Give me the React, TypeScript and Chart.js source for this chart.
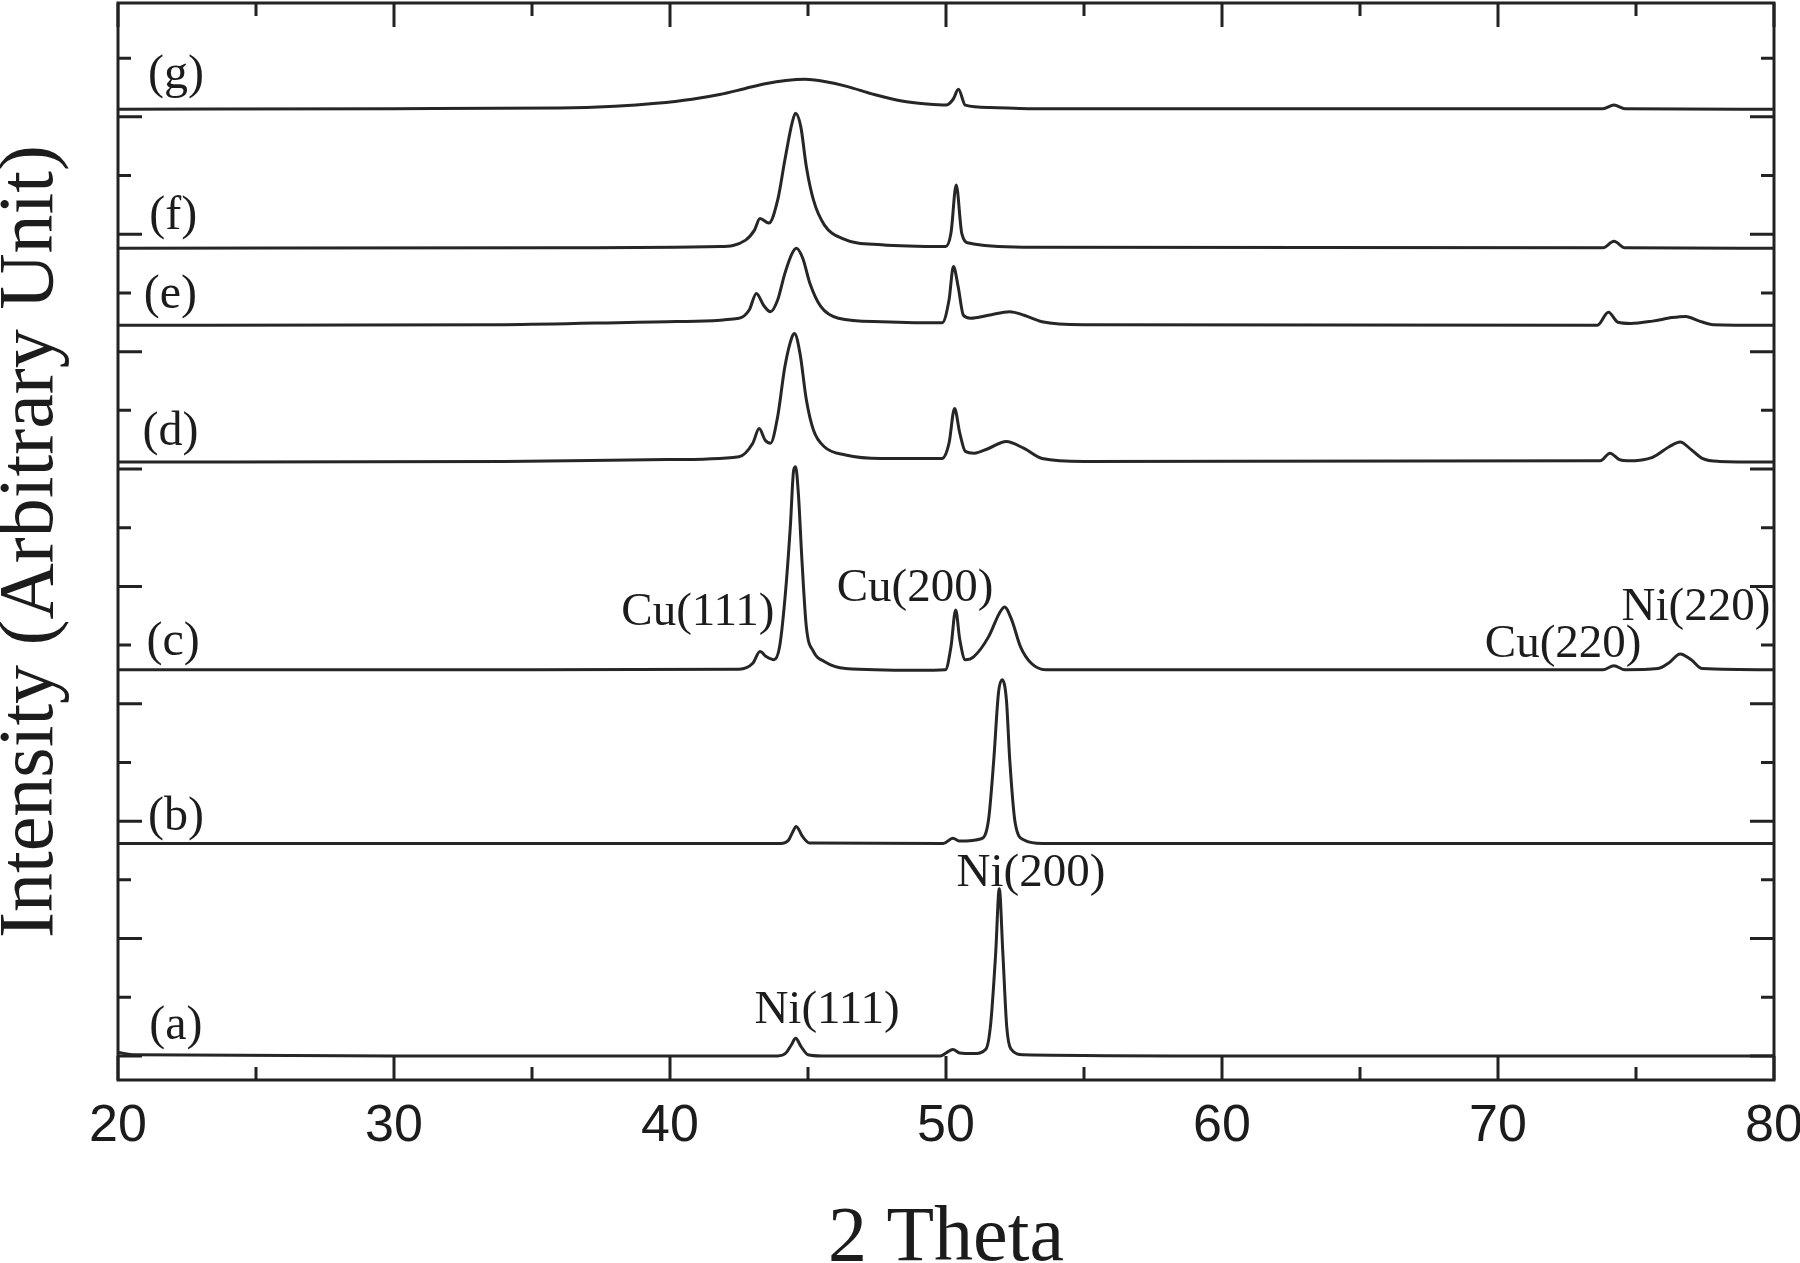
import { useEffect, useRef } from 'react';
import { Chart, registerables } from 'chart.js';

Chart.register(...registerables);

// ---- axis ranges / ticks ----
const X_MIN = 20;
const X_MAX = 80;
const X_STEP = 5;
const Y_MIN = -0.41;
const Y_MAX = 17.94;
const Y_STEP = 1;

// ---- XRD traces: [2θ, intensity (offset, arbitrary units)] ----
const traceA: [number, number][] = [
  [20, 0.06], [20.6, 0.02], [30, 0.0], [40, 0.0], [43.9, 0.0], [44.2, 0.05], [44.4, 0.19],
  [44.55, 0.3], [44.75, 0.16], [45.0, 0.02], [45.5, 0.0], [49.8, 0.0], [50.0, 0.05],
  [50.25, 0.11], [50.5, 0.05], [51.0, 0.04], [51.45, 0.12], [51.62, 0.55], [51.8, 1.75],
  [51.93, 2.85], [52.06, 1.75], [52.2, 0.5], [52.35, 0.12], [52.8, 0.02], [60, 0.0], [80, 0.0],
];
const traceB: [number, number][] = [
  [20, 3.62], [44.0, 3.62], [44.3, 3.68], [44.45, 3.82], [44.57, 3.91], [44.8, 3.74],
  [45.05, 3.63], [49.9, 3.62], [50.25, 3.71], [50.5, 3.66], [51.28, 3.7], [51.54, 4.02],
  [51.73, 5.04], [51.9, 6.18], [52.03, 6.41], [52.19, 6.06], [52.31, 5.04], [52.51, 3.96],
  [52.83, 3.68], [53.5, 3.62], [80, 3.62],
];
const traceC: [number, number][] = [
  [20, 6.58], [35, 6.58], [42.5, 6.59], [43.0, 6.69], [43.26, 6.89], [43.5, 6.8], [43.77, 6.75],
  [43.97, 6.97], [44.16, 7.77], [44.36, 9.02], [44.48, 9.98], [44.55, 10.04], [44.65, 9.59],
  [44.78, 8.45], [44.94, 7.31], [45.2, 6.89], [45.59, 6.72], [46.36, 6.6], [48.95, 6.57],
  [49.98, 6.58], [50.18, 6.97], [50.35, 7.6], [50.5, 7.09], [50.7, 6.75], [51.0, 6.8],
  [51.54, 7.14], [51.93, 7.54], [52.12, 7.65], [52.38, 7.43], [52.7, 6.97], [53.09, 6.69],
  [53.61, 6.58], [73.8, 6.58], [74.2, 6.65], [74.6, 6.58], [75.8, 6.6],
  [76.2, 6.7], [76.6, 6.85], [77.0, 6.75], [77.4, 6.6], [80, 6.58],
];
const traceD: [number, number][] = [
  [20, 10.12], [34, 10.13], [39.9, 10.16], [42.5, 10.21], [43.0, 10.44], [43.23, 10.69],
  [43.45, 10.49], [43.64, 10.44], [43.9, 10.89], [44.16, 11.74], [44.42, 12.25], [44.51, 12.31],
  [44.71, 11.97], [44.94, 11.18], [45.2, 10.66], [45.59, 10.38], [46.36, 10.24], [47.66, 10.18],
  [49.86, 10.18], [50.11, 10.44], [50.31, 11.03], [50.5, 10.61], [50.7, 10.3], [51.02, 10.27],
  [51.54, 10.35], [52.18, 10.47], [52.83, 10.35], [53.48, 10.18], [55, 10.13], [73.7, 10.14],
  [74.06, 10.27], [74.4, 10.16], [74.7, 10.14], [75.6, 10.2], [76.2, 10.38], [76.6, 10.46],
  [77.0, 10.33], [77.4, 10.18], [78, 10.13], [80, 10.12],
];
const traceE: [number, number][] = [
  [20, 12.45], [34, 12.46], [39.9, 12.51], [42.5, 12.57], [42.87, 12.71], [43.13, 12.99],
  [43.39, 12.79], [43.64, 12.68], [43.9, 12.88], [44.16, 13.33], [44.42, 13.67], [44.58, 13.76],
  [44.81, 13.59], [45.07, 13.16], [45.46, 12.77], [46.1, 12.57], [47.66, 12.51], [49.86, 12.49],
  [50.11, 12.88], [50.27, 13.45], [50.44, 13.11], [50.63, 12.62], [50.89, 12.57], [51.54, 12.62],
  [52.31, 12.68], [52.83, 12.62], [53.48, 12.51], [55, 12.46], [73.6, 12.45], [74.0, 12.67],
  [74.35, 12.5], [74.8, 12.48], [75.6, 12.52], [76.3, 12.58], [76.8, 12.6], [77.3, 12.52],
  [77.8, 12.46], [80, 12.45],
];
const traceF: [number, number][] = [
  [20, 13.76], [36, 13.77], [41.83, 13.79], [42.74, 13.9], [43.06, 14.07], [43.26, 14.27],
  [43.58, 14.19], [43.9, 14.58], [44.16, 15.26], [44.42, 15.89], [44.55, 16.06], [44.74, 15.83],
  [44.94, 15.15], [45.2, 14.58], [45.59, 14.16], [46.23, 13.93], [47.66, 13.82], [49.99, 13.79],
  [50.18, 14.02], [50.37, 14.84], [50.57, 14.02], [50.83, 13.85], [52.83, 13.78],
  [73.8, 13.77], [74.2, 13.88], [74.6, 13.77], [80, 13.76],
];
const traceG: [number, number][] = [
  [20, 16.13], [30, 16.14], [36, 16.15], [38, 16.18], [39.5, 16.23], [40.8, 16.3],
  [41.8, 16.38], [42.7, 16.48], [43.5, 16.57], [44.2, 16.62], [44.9, 16.64], [45.5, 16.61],
  [46.4, 16.52], [47.4, 16.38], [48.4, 16.27], [49.3, 16.22], [50.0, 16.2], [50.26, 16.3],
  [50.45, 16.47], [50.7, 16.2], [51.6, 16.16], [53, 16.14], [73.8, 16.14], [74.2, 16.2],
  [74.6, 16.14], [80, 16.13],
];

const TRACES = [traceA, traceB, traceC, traceD, traceE, traceF, traceG];
const SERIES_NAMES = ['(a)', '(b)', '(c)', '(d)', '(e)', '(f)', '(g)'];
// label anchors in data coordinates [2θ, intensity]
const SERIES_LABEL_AT: [number, number][] = [
  [22.1, 0.51], [22.1, 4.07], [22.0, 7.04], [21.9, 10.63], [21.9, 12.95], [22.0, 14.31], [22.1, 16.7],
];
const PEAK_NAMES = ['Cu(111)', 'Cu(200)', 'Cu(220)', 'Ni(220)', 'Ni(200)', 'Ni(111)'];
const PEAK_LABEL_AT: [number, number][] = [
  [41.01, 7.55], [48.88, 7.96], [72.36, 7.0], [77.17, 7.63], [53.08, 3.1], [45.69, 0.77],
];

const INK = '#1c1c1c';
const SERIF = "'Liberation Serif', 'Times New Roman', serif";
const SANS = "'Liberation Sans', Arial, sans-serif";

const framePlugin = {
  id: 'xrdFrame',
  afterDatasetsDraw(chart: any) {
    const { ctx, chartArea, scales } = chart;
    const { left, right, top, bottom } = chartArea;
    const xs = scales.x;
    const ys = scales.y;
    ctx.save();
    ctx.strokeStyle = '#222';
    ctx.lineWidth = 3;
    ctx.strokeRect(left, top, right - left, bottom - top);
    ctx.beginPath();
    for (const t of xs.ticks) {
      const px = xs.getPixelForValue(t.value);
      const len = Math.round(t.value) % 10 === 0 ? 24 : 13;
      ctx.moveTo(px, bottom);
      ctx.lineTo(px, bottom - len);
      ctx.moveTo(px, top);
      ctx.lineTo(px, top + len);
    }
    for (const t of ys.ticks) {
      if (!Number.isInteger(Math.round(t.value * 1000) / 1000)) continue;
      const py = ys.getPixelForValue(t.value);
      const len = Math.round(t.value) % 2 === 0 ? 24 : 13;
      ctx.moveTo(left, py);
      ctx.lineTo(left + len, py);
      ctx.moveTo(right, py);
      ctx.lineTo(right - len, py);
    }
    ctx.stroke();

    ctx.fillStyle = INK;
    ctx.textAlign = 'center';
    ctx.textBaseline = 'middle';
    ctx.font = `48px ${SERIF}`;
    SERIES_NAMES.forEach((name, i) => {
      const [vx, vy] = SERIES_LABEL_AT[i];
      ctx.fillText(name, xs.getPixelForValue(vx), ys.getPixelForValue(vy));
    });
    ctx.font = `47px ${SERIF}`;
    PEAK_NAMES.forEach((name, i) => {
      const [vx, vy] = PEAK_LABEL_AT[i];
      ctx.fillText(name, xs.getPixelForValue(vx), ys.getPixelForValue(vy));
    });
    ctx.restore();
  },
};

export default function App() {
  const ref = useRef<HTMLCanvasElement>(null);

  useEffect(() => {
    const canvas = ref.current;
    if (!canvas) return;
    const chart = new Chart(canvas, {
      type: 'line',
      data: {
        datasets: TRACES.map((tr, i) => ({
          label: SERIES_NAMES[i],
          data: tr.map(([x, y]) => ({ x, y })),
          borderColor: '#262626',
          borderWidth: 3,
          pointRadius: 0,
          fill: false,
          cubicInterpolationMode: 'monotone' as const,
        })),
      },
      options: {
        animation: false,
        responsive: false,
        devicePixelRatio: 1,
        layout: { padding: { left: 0, top: 3, right: 26, bottom: 0 } },
        plugins: { legend: { display: false }, tooltip: { enabled: false } },
        scales: {
          x: {
            type: 'linear',
            min: X_MIN,
            max: X_MAX,
            grid: { display: false, drawTicks: false },
            border: { display: false },
            ticks: {
              stepSize: X_STEP,
              autoSkip: false,
              maxRotation: 0,
              padding: 21,
              color: INK,
              font: { family: SANS, size: 52, lineHeight: 1 },
              callback: (v: any) => (Number(v) % 10 === 0 ? String(v) : ''),
            },
            title: {
              display: true,
              text: '2 Theta',
              color: INK,
              font: { family: SERIF, size: 78, lineHeight: '46px' },
              padding: 0,
            },
            afterFit: (s: any) => {
              s.height = 183;
              s.paddingLeft = 0;
              s.paddingRight = 0;
            },
          },
          y: {
            type: 'linear',
            min: Y_MIN,
            max: Y_MAX,
            grid: { display: false, drawTicks: false },
            border: { display: false },
            ticks: { display: false, stepSize: Y_STEP, includeBounds: false },
            title: {
              display: true,
              text: 'Intensity (Arbitrary Unit)',
              color: INK,
              font: { family: SERIF, size: 78, lineHeight: '64px' },
              padding: 0,
            },
            afterFit: (s: any) => {
              s.width = 118;
              s.paddingTop = 0;
              s.paddingBottom = 0;
            },
          },
        },
      } as any,
      plugins: [framePlugin],
    });
    return () => chart.destroy();
  }, []);

  return (
    <div style={{ position: 'fixed', left: 0, top: 0, width: 1800, height: 1263, background: '#fff' }}>
      <canvas ref={ref} width={1800} height={1263} style={{ display: 'block', width: 1800, height: 1263 }} />
    </div>
  );
}
